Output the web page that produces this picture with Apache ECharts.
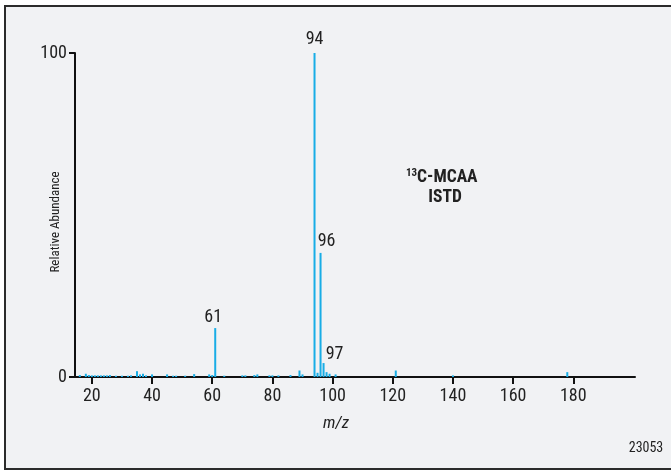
<!DOCTYPE html>
<html>
<head>
<meta charset="utf-8">
<script src="https://cdn.jsdelivr.net/npm/echarts@6/dist/echarts.min.js"></script>
<style>
html,body{margin:0;padding:0;background:#ffffff;}
#chart{width:671px;height:472px;}
</style>
</head>
<body>
<div id="chart"></div>
<script>
// m/z values and relative abundances
const mz = [16, 18, 19, 20, 21, 22, 23, 24, 25, 26, 28, 30, 32, 33, 35, 36, 37, 38,
            40, 45, 47, 48, 51, 54, 59, 60, 61, 64, 70, 71, 74, 75, 79, 80, 82, 86,
            89, 90, 94, 95, 96, 97, 98, 99, 101, 121, 140, 178];
const abundance = [0.6, 1.0, 0.6, 0.5, 0.5, 0.5, 0.5, 0.5, 0.5, 0.6, 0.4, 0.4, 0.4, 0.5, 1.8, 0.8, 1.0, 0.5,
                   0.8, 0.8, 0.4, 0.4, 0.4, 0.9, 0.8, 0.6, 15.1, 0.4, 0.5, 0.5, 0.6, 0.8, 0.5, 0.5, 0.5, 0.6,
                   2.0, 0.8, 100, 1.3, 38.3, 4.3, 1.5, 1.0, 0.8, 2.0, 0.5, 1.5];
const labelledPeaks = [61, 94, 96, 97];
const xTickValues = [20, 40, 60, 80, 100, 120, 140, 160, 180];
const yTickValues = [0, 100];
const xTitle = 'm/z';
const yTitle = 'Relative Abundance';
const figureId = '23053';

const FONT = 'Roboto, "DejaVu Sans", sans-serif';
const COND = 'condensed';
const labelOffsets = {61: [-2, 0], 94: [0, -3], 96: [6, 0], 97: [11, 2]};

const seriesData = mz.map((m, i) => {
  const item = {value: [m, abundance[i]]};
  if (labelledPeaks.includes(m)) {
    item.label = {
      show: true, position: 'top', distance: 2,
      offset: labelOffsets[m],
      formatter: String(m),
      color: '#222', fontSize: 18, fontStyle: COND, fontFamily: FONT
    };
  }
  return item;
});

const chart = echarts.init(document.getElementById('chart'), null, {renderer: 'canvas'});
chart.setOption({
  backgroundColor: '#ffffff',
  animation: false,
  graphic: [
    {type: 'rect', z: -10, silent: true,
     shape: {x: 5, y: 6, width: 700, height: 463},
     style: {fill: '#f1f2f4', stroke: '#2b2b2b', lineWidth: 2}},
    {type: 'text', left: 406, top: 168, z: 10,
     style: {
       text: '{sup|13}{b|C-MCAA}',
       rich: {
         sup: {fontSize: 11, fontWeight: 'bold', fontStyle: COND, fontFamily: FONT, fill: '#222', verticalAlign: 'top', padding: [0, 0, 8, 0]},
         b: {fontSize: 17.5, fontWeight: 'bold', fontStyle: COND, fontFamily: FONT, fill: '#222'}
       }
     }},
    {type: 'text', x: 445, y: 198, z: 10,
     style: {text: 'ISTD', fontSize: 17.5, fontWeight: 'bold', fontStyle: COND, fontFamily: FONT, fill: '#222',
             textAlign: 'center', textVerticalAlign: 'middle'}},
    {type: 'text', x: 336, y: 424, z: 10,
     style: {text: xTitle, fontSize: 17, fontStyle: 'italic ' + COND, fontFamily: FONT, fill: '#222',
             textAlign: 'center', textVerticalAlign: 'middle'}},
    {type: 'text', x: 56, y: 222, rotation: Math.PI / 2, z: 10,
     style: {text: yTitle, fontSize: 13, fontStyle: COND, fontFamily: FONT, fill: '#222',
             textAlign: 'center', textVerticalAlign: 'middle'}},
    {type: 'text', x: 646, y: 448, z: 10,
     style: {text: figureId, fontSize: 14, fontStyle: COND, fontFamily: FONT, fill: '#222',
             textAlign: 'center', textVerticalAlign: 'middle'}}
  ],
  grid: {left: 75, right: 36, top: 53, bottom: 95, containLabel: false},
  xAxis: {
    type: 'value', min: 14.4, max: 200.5,
    axisLine: {show: true, onZero: false, lineStyle: {color: '#111', width: 2}},
    axisTick: {show: true, customValues: xTickValues, length: 7, lineStyle: {color: '#111', width: 2}},
    axisLabel: {show: true, customValues: xTickValues, margin: 10, color: '#222', fontSize: 18, fontStyle: COND, fontFamily: FONT},
    splitLine: {show: false}
  },
  yAxis: {
    type: 'value', min: 0, max: 100, interval: 100,
    axisLine: {show: true, lineStyle: {color: '#111', width: 2}},
    axisTick: {show: true, length: 6, lineStyle: {color: '#111', width: 2}},
    axisLabel: {show: true, margin: 8, color: '#222', fontSize: 18, fontStyle: COND, fontFamily: FONT,
                formatter: v => (yTickValues.includes(v) ? String(v) : '')},
    splitLine: {show: false}
  },
  series: [{
    type: 'bar',
    data: seriesData,
    barWidth: 2,
    itemStyle: {color: '#18ade6'},
    z: 1
  }]
});
</script>
</body>
</html>
